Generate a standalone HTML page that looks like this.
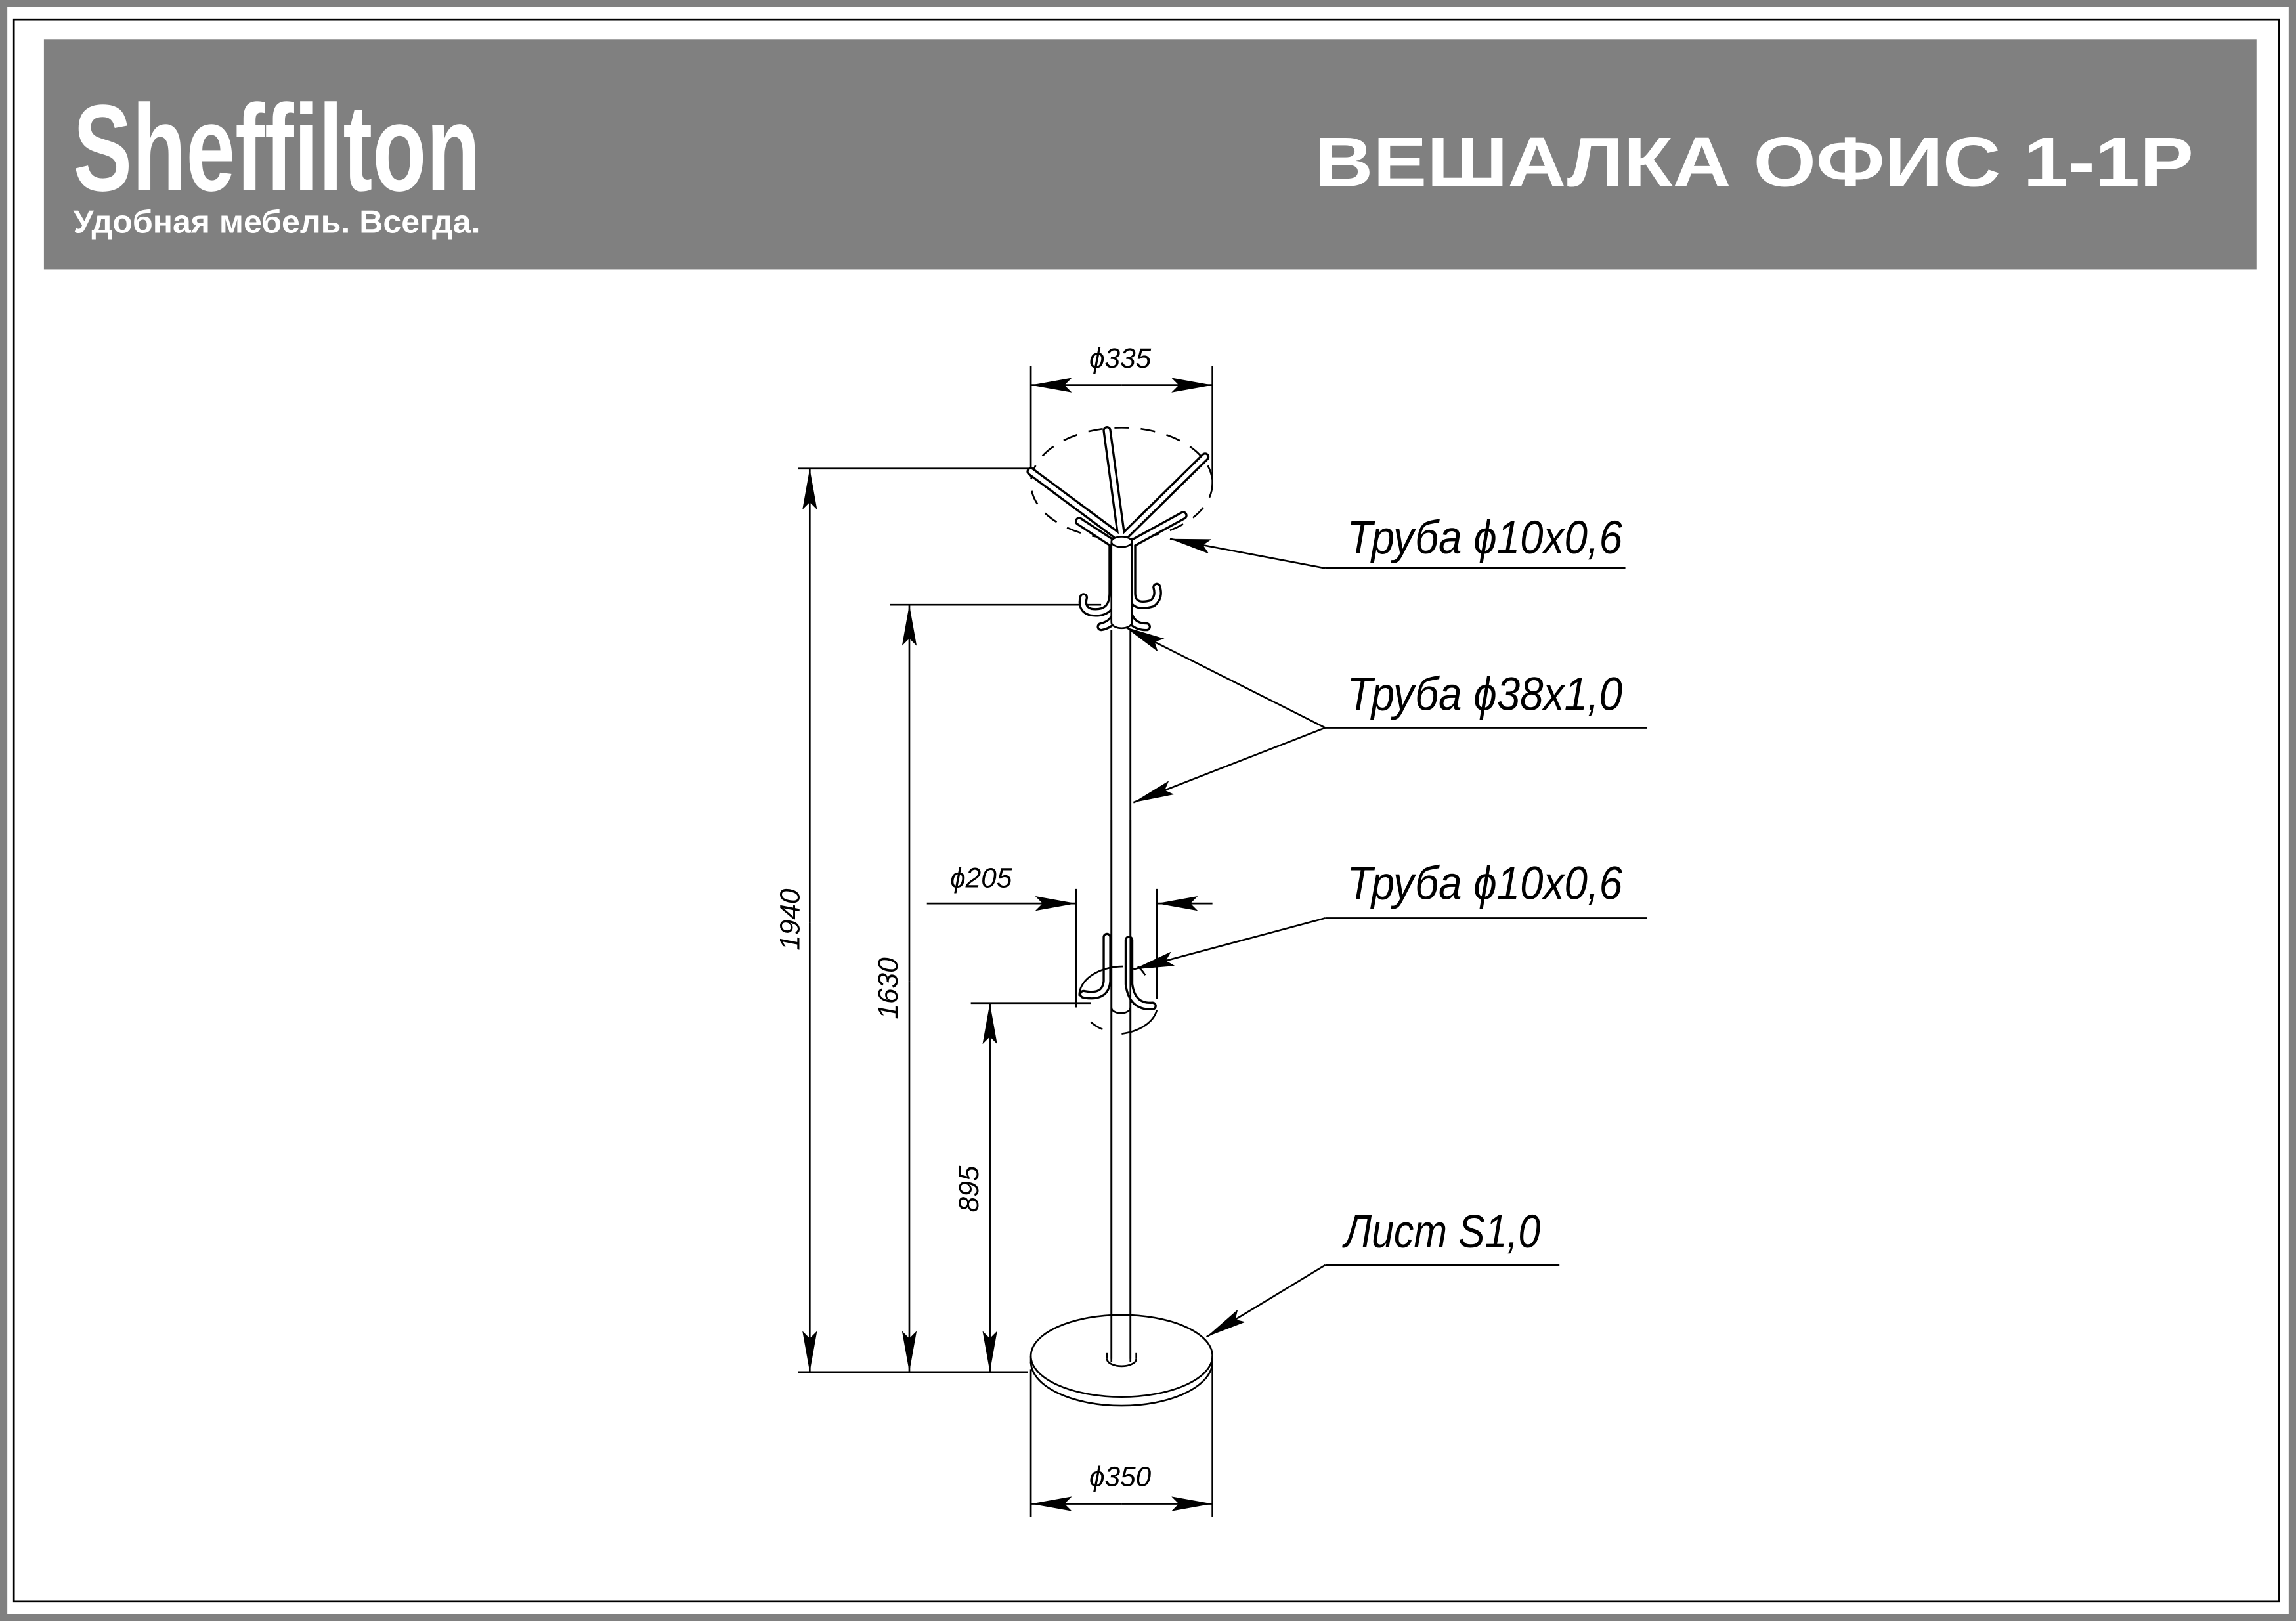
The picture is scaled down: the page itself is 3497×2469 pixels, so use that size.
<!DOCTYPE html>
<html><head><meta charset="utf-8">
<style>
html,body{margin:0;padding:0;background:#fff;}
svg{display:block;}
.t{font-family:"Liberation Sans",sans-serif;font-style:italic;fill:#000;}
</style></head>
<body>
<svg width="3497" height="2469" viewBox="0 0 1568 1107" xmlns="http://www.w3.org/2000/svg">
<defs>
<marker id="a" viewBox="0 0 28 10" refX="28" refY="5" markerWidth="28" markerHeight="10" markerUnits="userSpaceOnUse" orient="auto">
<path d="M0,0 L28,5 L0,10 L5,5 Z" fill="#000"/>
</marker>
</defs>
<rect x="0" y="0" width="1568" height="1107" fill="#fff"/>
<rect x="2.5" y="2" width="1563" height="1103" fill="none" stroke="#808080" stroke-width="5"/>
<rect x="9.5" y="13.5" width="1547" height="1080" fill="none" stroke="#000" stroke-width="1.2"/>
<rect x="30" y="27" width="1511" height="157" fill="#808080"/>
<text x="50" y="130" font-family="Liberation Sans, sans-serif" font-weight="bold" font-size="84" fill="#fff" textLength="278" lengthAdjust="spacingAndGlyphs">Sheffilton</text>
<text x="50" y="159" font-family="Liberation Sans, sans-serif" font-weight="bold" font-size="22" fill="#fff" textLength="278" lengthAdjust="spacingAndGlyphs">Удобная мебель. Всегда.</text>
<text x="898" y="127" font-family="Liberation Sans, sans-serif" font-weight="bold" font-size="48" fill="#fff" textLength="600" lengthAdjust="spacingAndGlyphs">ВЕШАЛКА ОФИС 1-1Р</text>

<g stroke="#000" stroke-width="1.2" fill="none">
<line x1="704" y1="250" x2="704" y2="322"/>
<line x1="828" y1="250" x2="828" y2="330"/>
<line x1="766" y1="263" x2="704" y2="263" marker-end="url(#a)"/>
<line x1="766" y1="263" x2="828" y2="263" marker-end="url(#a)"/>
<line x1="545" y1="320" x2="706" y2="320"/>
<line x1="545" y1="937" x2="702" y2="937"/>
<line x1="553" y1="630" x2="553" y2="320" marker-end="url(#a)"/>
<line x1="553" y1="630" x2="553" y2="937" marker-end="url(#a)"/>
<line x1="608" y1="413" x2="752" y2="413"/>
<line x1="621" y1="670" x2="621" y2="413" marker-end="url(#a)"/>
<line x1="621" y1="670" x2="621" y2="937" marker-end="url(#a)"/>
<line x1="663" y1="685" x2="745" y2="685"/>
<line x1="676" y1="810" x2="676" y2="685" marker-end="url(#a)"/>
<line x1="676" y1="810" x2="676" y2="937" marker-end="url(#a)"/>
<line x1="735" y1="607" x2="735" y2="688"/>
<line x1="790" y1="607" x2="790" y2="682"/>
<line x1="633" y1="617" x2="735" y2="617" marker-end="url(#a)"/>
<line x1="828" y1="617" x2="790" y2="617" marker-end="url(#a)"/>
<line x1="704" y1="935" x2="704" y2="1036"/>
<line x1="828" y1="928" x2="828" y2="1036"/>
<line x1="766" y1="1027" x2="704" y2="1027" marker-end="url(#a)"/>
<line x1="766" y1="1027" x2="828" y2="1027" marker-end="url(#a)"/>

<line x1="905" y1="388" x2="1110" y2="388"/>
<line x1="905" y1="388" x2="799" y2="368" marker-end="url(#a)"/>
<line x1="905" y1="497" x2="1125" y2="497"/>
<line x1="905" y1="497" x2="774" y2="548" marker-end="url(#a)"/>
<line x1="905" y1="497" x2="768" y2="428" marker-end="url(#a)"/>
<line x1="905" y1="627" x2="1125" y2="627"/>
<line x1="905" y1="627" x2="774" y2="662" marker-end="url(#a)"/>
<line x1="905" y1="864" x2="1065" y2="864"/>
<line x1="905" y1="864" x2="824" y2="913" marker-end="url(#a)"/>

<line x1="759" y1="430" x2="759" y2="930"/>
<line x1="772" y1="430" x2="772" y2="930"/>
<path d="M704,930 A62,30 0 0 0 828,930"/>
<ellipse cx="766" cy="926" rx="62" ry="28" fill="#fff"/>
<line x1="704" y1="926" x2="704" y2="931"/>
<line x1="828" y1="926" x2="828" y2="931"/>
<line x1="759" y1="430" x2="759" y2="928"/>
<line x1="772" y1="430" x2="772" y2="928"/>
<path d="M756,928 A10,5 0 0 0 776,928"/>
<line x1="756" y1="928" x2="756" y2="924"/><line x1="776" y1="928" x2="776" y2="924"/>

<ellipse cx="766" cy="330" rx="62" ry="38" stroke-dasharray="10,8"/>
</g>

<g fill="none" stroke-linecap="round">
<g stroke="#000" stroke-width="6">
<path d="M766,368 L704,322"/>
<path d="M766,368 L756,294"/>
<path d="M766,368 L823,312"/>
<path d="M766,375 L808,352"/>
<path d="M766,375 L737,356"/>
<path d="M760,372 L760,405 Q760,420 745,418 Q738,416 740,408"/>
<path d="M773,372 L773,405 Q773,416 787,412 Q792,408 790,401"/>
<path d="M763,372 L763,415 Q762,426 752,428"/>
<path d="M770,372 L770,415 Q771,428 783,428"/>
</g>
<g stroke="#fff" stroke-width="3">
<path d="M766,368 L704,322"/>
<path d="M766,368 L756,294"/>
<path d="M766,368 L823,312"/>
<path d="M766,375 L808,352"/>
<path d="M766,375 L737,356"/>
<path d="M760,372 L760,405 Q760,420 745,418 Q738,416 740,408"/>
<path d="M773,372 L773,405 Q773,416 787,412 Q792,408 790,401"/>
<path d="M763,372 L763,415 Q762,426 752,428"/>
<path d="M770,372 L770,415 Q771,428 783,428"/>
</g>
</g>
<g stroke="#000" stroke-width="1.2" fill="#fff">
<path d="M759,370 L759,425 A7,4 0 0 0 773,425 L773,370"/>
<ellipse cx="766" cy="370" rx="7" ry="3.5"/>
</g>

<g fill="none" stroke-linecap="round">
<g stroke="#000" stroke-width="6">
<path d="M756,640 L756,670 Q755,682 740,679"/>
<path d="M771,642 L771,672 Q773,688 787,687"/>
</g>
<g stroke="#fff" stroke-width="3">
<path d="M756,640 L756,670 Q755,682 740,679"/>
<path d="M771,642 L771,672 Q773,688 787,687"/>
</g>
</g>
<g stroke="#000" stroke-width="1.2" fill="none">
<line x1="759" y1="560" x2="759" y2="930"/>
<line x1="772" y1="560" x2="772" y2="930"/>
<path d="M759,688 A6.5,4 0 0 0 772,688"/>
<path d="M737,680 A30,20 0 0 1 767,660" />
<path d="M745,698 A30,20 0 0 0 753,703" />
<path d="M766,706 A30,20 0 0 0 790,690" />
<path d="M777,660 A30,20 0 0 1 782,666" />
</g>

<g class="t">
<text x="765" y="251" font-size="19" text-anchor="middle">ϕ335</text>
<text x="670" y="606" font-size="19" text-anchor="middle">ϕ205</text>
<text x="765" y="1015" font-size="19" text-anchor="middle">ϕ350</text>
<text transform="translate(546,628) rotate(-90)" font-size="19" text-anchor="middle">1940</text>
<text transform="translate(613,675) rotate(-90)" font-size="19" text-anchor="middle">1630</text>
<text transform="translate(668,812) rotate(-90)" font-size="19" text-anchor="middle">895</text>
<text x="920" y="378" font-size="32" textLength="188" lengthAdjust="spacingAndGlyphs">Труба ϕ10x0,6</text>
<text x="920" y="485" font-size="32" textLength="188" lengthAdjust="spacingAndGlyphs">Труба ϕ38x1,0</text>
<text x="920" y="614" font-size="32" textLength="188" lengthAdjust="spacingAndGlyphs">Труба ϕ10x0,6</text>
<text x="918" y="852" font-size="32" textLength="134" lengthAdjust="spacingAndGlyphs">Лист S1,0</text>
</g>
</svg>
</body></html>
